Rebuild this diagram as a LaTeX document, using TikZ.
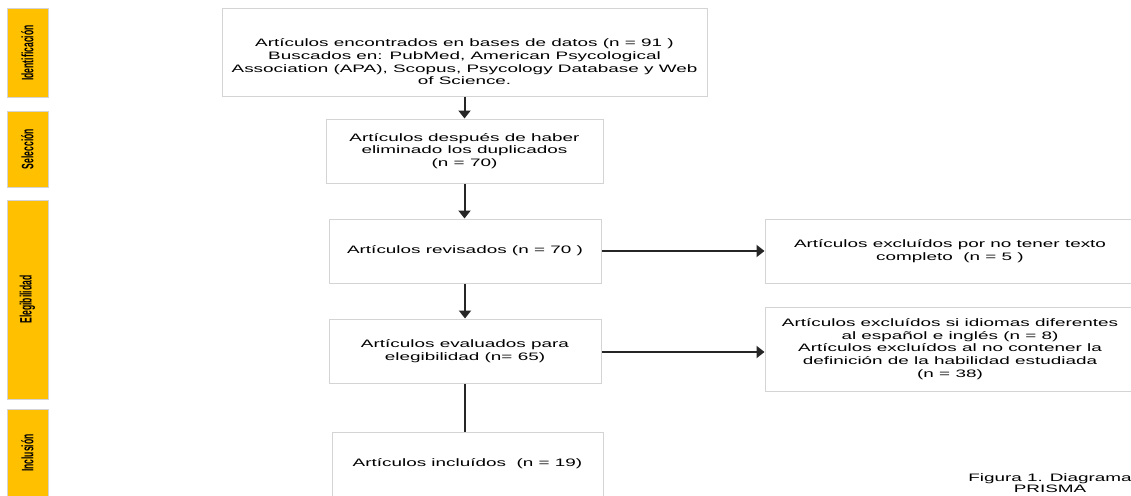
\documentclass[tikz,border=0pt]{standalone}
\usepackage{fontspec}
\setmainfont{Liberation Sans}[FakeStretch=1.75]
\newfontfamily\phasefont{Liberation Sans}[FakeStretch=0.52]
\usetikzlibrary{arrows.meta}
\definecolor{phaseyellow}{HTML}{FFC000}
\definecolor{boxgray}{HTML}{D4D4D4}
\definecolor{arrowgray}{HTML}{262626}

\tikzset{
  phase/.style={draw=boxgray, fill=phaseyellow, line width=1pt, rotate=90, inner sep=0pt,
    minimum height=41pt, font=\phasefont\fontsize{16.5}{18}\selectfont\bfseries},
  stepbox/.style={draw=boxgray, fill=white, line width=1pt, align=center, inner sep=0pt},
  boxtext/.style={align=center, inner sep=0pt},
  flow/.style={arrowgray, line width=2pt, -{Triangle[length=8pt, width=12pt]}},
}

\begin{document}
\begin{tikzpicture}[x=1pt, y=-1pt, font=\fontsize{10.8}{12.7}\selectfont]
    \useasboundingbox (0,0) rectangle (1131,495);
    \clip (0,0) rectangle (1131,495);

    % fases
    \node[phase, minimum width=88pt] (ident) at (27.5, 53.0) {Identificación};
    \node[phase, minimum width=76pt] (selec) at (27.5, 149.0) {Selección};
    \node[phase, minimum width=199pt] (elegi) at (27.5, 299.5) {Elegibilidad};
    \node[phase, minimum width=88pt] (inclu) at (27.5, 453.0) {Inclusión};

    % columna principal
    \node[stepbox, minimum width=485pt, minimum height=87pt] (found) at (464.5, 52.5) {};
    \node[boxtext] (foundtext) at (found.center) [yshift=-9.5pt]
        {Artículos encontrados en bases de datos (n = 91 )\\
         Buscados en: PubMed, American Psycological\\
         Association (APA), Scopus, Psycology Database y Web\\
         of Science.};
    \node[stepbox, minimum width=277pt, minimum height=64pt] (dedup) at (464.5, 151.0)
        {Artículos después de haber\\ eliminado los duplicados\\ (n = 70)};
    \node[stepbox, minimum width=272pt, minimum height=64pt] (review) at (465.0, 251.0)
        {Artículos revisados (n = 70 )};
    \node[stepbox, minimum width=272pt, minimum height=64pt] (assess) at (465.0, 351.0)
        {Artículos evaluados para\\ elegibilidad (n= 65)};
    \node[stepbox, minimum width=271pt, minimum height=64pt] (incl) at (467.5, 464.0)
        {Artículos incluídos\ \ (n = 19)};

    % excluidos
    \node[stepbox, minimum width=370pt, minimum height=64pt] (excla) at (950.0, 251.0)
        {Artículos excluídos por no tener texto\\ completo\ \ (n = 5 )};
    \node[stepbox, minimum width=370pt, minimum height=84pt] (exclb) at (950.0, 349.0)
        {Artículos excluídos si idiomas diferentes\\ al español e inglés (n = 8)\\
         Artículos excluídos al no contener la\\ definición de la habilidad estudiada\\ (n = 38)};

    \node[boxtext, font=\fontsize{10.8}{10.5}\selectfont] (caption) at (1050, 483)
        {Figura 1. Diagrama\\ PRISMA};

    % flechas
    \draw[flow] (found.south -| dedup.center) -- (dedup.north);
    \draw[flow] (dedup.south) -- (dedup.south |- review.north);
    \draw[flow] (review.south) -- (assess.north);
    \draw[flow, -] (assess.south) -- (assess.south |- incl.north);
    \draw[flow] (review.east) -- (review.east -| excla.west);
    \draw[flow] ([yshift=-1pt]assess.east) -- ([yshift=-1pt]assess.east -| exclb.west);
\end{tikzpicture}
\end{document}
